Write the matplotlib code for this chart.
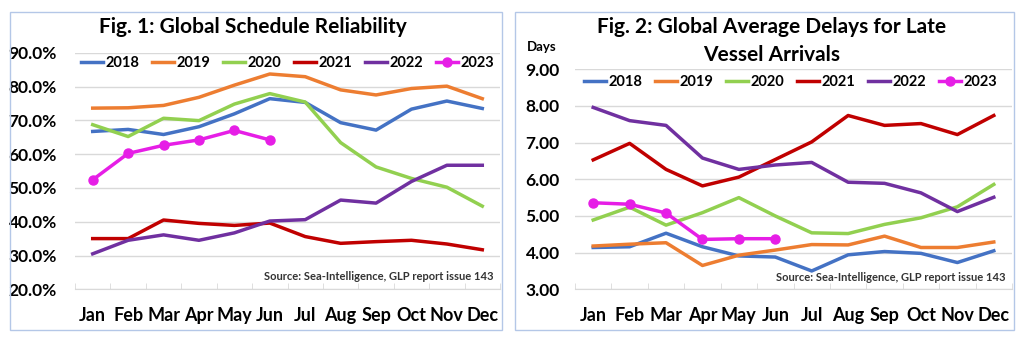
import matplotlib
matplotlib.use("Agg")
import matplotlib.pyplot as plt
from matplotlib.patches import Rectangle
from matplotlib.ticker import FuncFormatter, MultipleLocator
import numpy as np

plt.rcParams['font.family'] = ['Lato', 'DejaVu Sans']
plt.rcParams['font.weight'] = 'bold'

months = ["Jan", "Feb", "Mar", "Apr", "May", "Jun",
          "Jul", "Aug", "Sep", "Oct", "Nov", "Dec"]
years = ["2018", "2019", "2020", "2021", "2022", "2023"]
colors = ["#4472C4", "#ED7D31", "#92D050", "#C00000", "#7030A0", "#E61EE6"]

# Fig. 1: schedule reliability (%)
rel_2018 = [66.7, 67.3, 65.8, 68.1, 71.9, 76.4, 75.3, 69.3, 67.1, 73.3, 75.7, 73.5]
rel_2019 = [73.6, 73.7, 74.4, 76.8, 80.4, 83.7, 82.9, 79.0, 77.5, 79.4, 80.1, 76.4]
rel_2020 = [68.7, 65.2, 70.6, 69.9, 74.8, 77.9, 75.4, 63.4, 56.2, 52.8, 50.2, 44.6]
rel_2021 = [35.0, 35.0, 40.5, 39.5, 38.9, 39.6, 35.6, 33.6, 34.1, 34.5, 33.4, 31.7]
rel_2022 = [30.5, 34.5, 36.1, 34.5, 36.7, 40.2, 40.6, 46.4, 45.5, 51.9, 56.7, 56.7]
rel_2023 = [52.4, 60.2, 62.6, 64.2, 67.0, 64.2]

# Fig. 2: average delay for late vessels (days)
del_2018 = [4.14, 4.16, 4.53, 4.16, 3.91, 3.88, 3.50, 3.94, 4.03, 3.98, 3.73, 4.05]
del_2019 = [4.18, 4.23, 4.27, 3.65, 3.93, 4.07, 4.22, 4.21, 4.45, 4.14, 4.14, 4.29]
del_2020 = [4.89, 5.24, 4.75, 5.09, 5.50, 5.00, 4.54, 4.52, 4.77, 4.95, 5.25, 5.86]
del_2021 = [6.53, 6.98, 6.27, 5.82, 6.06, 6.54, 7.02, 7.74, 7.47, 7.52, 7.22, 7.74]
del_2022 = [7.96, 7.60, 7.47, 6.58, 6.27, 6.39, 6.46, 5.92, 5.89, 5.63, 5.12, 5.51]
del_2023 = [5.36, 5.32, 5.08, 4.36, 4.38, 4.38]

source = "Source: Sea-Intelligence, GLP report issue 143"

W, H = 1024, 337
fig = plt.figure(figsize=(W / 100, H / 100), dpi=100)


def px_axes(x0, y_top, x1, y_bot):
    return fig.add_axes([x0 / W, 1 - y_bot / H, (x1 - x0) / W, (y_bot - y_top) / H])


def style(ax, lo, hi, step, fmt, pad):
    ax.set_xlim(-0.5, 11.5)
    ax.set_ylim(lo, hi)
    ax.yaxis.set_major_locator(MultipleLocator(step))
    ax.yaxis.set_major_formatter(FuncFormatter(fmt))
    ax.grid(axis='y', color="#D9D9D9", lw=1)
    ax.set_axisbelow(True)
    for s in ["top", "right", "left"]:
        ax.spines[s].set_visible(False)
    ax.spines["bottom"].set_color("#D9D9D9")
    ax.set_xticks(range(12))
    ax.set_xticklabels(months)
    ax.set_xticks(np.arange(-0.5, 12, 1), minor=True)
    ax.tick_params(axis='x', which='major', length=0, pad=13, labelsize=13)
    ax.tick_params(axis='x', which='minor', length=4, direction='in', color="#D9D9D9")
    ax.tick_params(axis='y', length=0, pad=pad, labelsize=12.5)


def draw(ax, series, legend_xy):
    for yr, vals, c in zip(years, series, colors):
        x = np.arange(len(vals))
        if yr == "2023":
            ax.plot(x, vals, color=c, lw=2.5, marker='o', ms=6.5, label=yr, zorder=5)
        else:
            ax.plot(x, vals, color=c, lw=2.5, label=yr)
    ax.legend(loc='center', bbox_to_anchor=legend_xy, ncol=6, frameon=False,
              handlelength=1.5, handletextpad=0.15, columnspacing=0.9,
              prop={'weight': 'bold', 'size': 10.5})


# panel borders
for x0, x1 in [(10, 502), (515, 1014)]:
    fig.patches.append(Rectangle((x0 / W, 1 - 330 / H), (x1 - x0) / W, 318 / H,
                                 transform=fig.transFigure, fill=False,
                                 edgecolor="#B4C7E7", lw=1))

ax1 = px_axes(75, 52.7, 500, 289.3)
style(ax1, 20, 90, 10, lambda v, p: f"{v:.1f}%", 13)
draw(ax1, [rel_2018, rel_2019, rel_2020, rel_2021, rel_2022, rel_2023], (0.5, 0.956))
ax1.text(0.985, 0.03, source, transform=ax1.transAxes, ha='right', va='bottom',
         fontsize=8, color="#333333")
fig.text(253 / W, 1 - 27 / H, "Fig. 1: Global Schedule Reliability",
         ha='center', va='center', fontsize=15, fontweight='bold')

ax2 = px_axes(575, 69.3, 1012, 289.3)
style(ax2, 3, 9, 1, lambda v, p: f"{v:.2f}", 11)
draw(ax2, [del_2018, del_2019, del_2020, del_2021, del_2022, del_2023], (0.493, 0.942))
ax2.text(0.985, 0.03, source, transform=ax2.transAxes, ha='right', va='bottom',
         fontsize=8, color="#333333")
fig.text(772 / W, 1 - 27 / H, "Fig. 2: Global Average Delays for Late",
         ha='center', va='center', fontsize=15, fontweight='bold')
fig.text(772 / W, 1 - 55 / H, "Vessel Arrivals",
         ha='center', va='center', fontsize=15, fontweight='bold')
fig.text(527 / W, 1 - 47 / H, "Days", ha='left', va='center', fontsize=9.5,
         fontweight='bold')

fig.savefig("out.png", dpi=100)
